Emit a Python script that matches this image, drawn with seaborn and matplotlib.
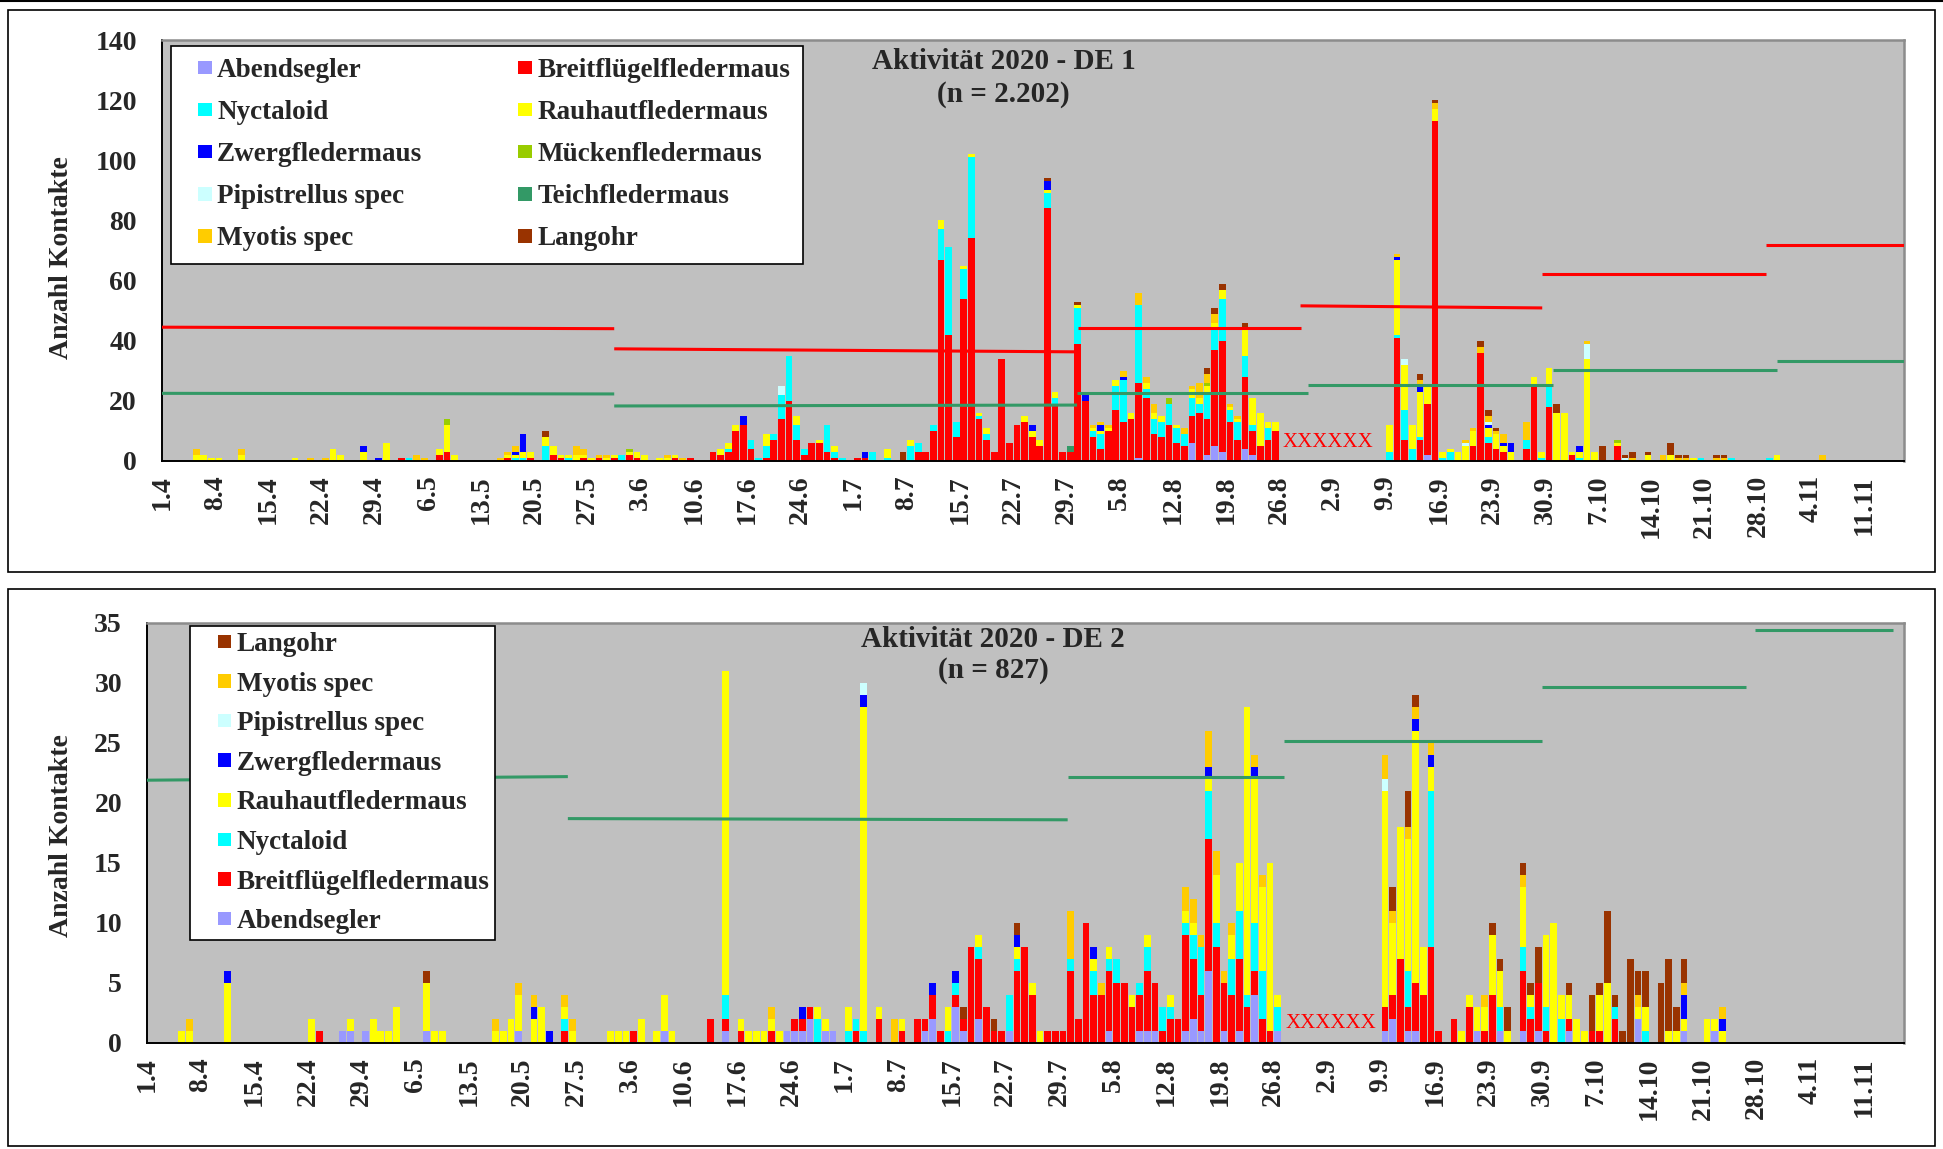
import numpy as np
import pandas as pd
import matplotlib
matplotlib.use("Agg")
import matplotlib.pyplot as plt
from matplotlib.patches import Patch, Rectangle
from matplotlib.lines import Line2D
from matplotlib.legend_handler import HandlerPatch
import seaborn as sns

# ---------------------------------------------------------------- data
# day index 0 = 1.4.2020 ; values = number of contacts per night
TICK_LABELS = ["1.4", "8.4", "15.4", "22.4", "29.4", "6.5", "13.5", "20.5", "27.5",
               "3.6", "10.6", "17.6", "24.6", "1.7", "8.7", "15.7", "22.7", "29.7",
               "5.8", "12.8", "19.8", "26.8", "2.9", "9.9", "16.9", "23.9", "30.9",
               "7.10", "14.10", "21.10", "28.10", "4.11", "11.11"]

SPECIES = ["Abendsegler", "Breitflügelfledermaus", "Nyctaloid", "Rauhautfledermaus",
           "Zwergfledermaus", "Mückenfledermaus", "Pipistrellus spec", "Teichfledermaus",
           "Myotis spec", "Langohr"]
COLORS = {"Abendsegler": "#9999FF", "Breitflügelfledermaus": "#FF0000",
          "Nyctaloid": "#00FFFF", "Rauhautfledermaus": "#FFFF00",
          "Zwergfledermaus": "#0000FF", "Mückenfledermaus": "#99CC00",
          "Pipistrellus spec": "#CCFFFF", "Teichfledermaus": "#339966",
          "Myotis spec": "#FFCC00", "Langohr": "#993300"}

# ---- DE 1
DE1_ABENDSEGLER = {128: 1, 135: 6, 137: 2, 138: 5, 139: 3, 142: 4, 143: 2, 166: 2}
DE1_BREIT = {31: 1, 36: 2, 37: 3, 45: 1, 48: 1, 51: 2, 52: 1, 55: 1, 57: 1, 59: 1, 61: 2,
             62: 1, 67: 1, 69: 1, 72: 3, 73: 2, 74: 3, 75: 10, 76: 12, 77: 4, 79: 1, 80: 7,
             81: 14, 82: 20, 83: 7, 84: 2, 85: 6, 86: 6, 87: 3, 88: 1, 91: 1, 92: 1, 99: 3,
             100: 3, 101: 10, 102: 67, 103: 42, 104: 8, 105: 54, 106: 74, 107: 14, 108: 7,
             109: 3, 110: 34, 111: 6, 112: 12, 113: 13, 114: 8, 115: 5, 116: 84, 117: 19,
             118: 3, 119: 3, 120: 39, 121: 20, 122: 8, 123: 4, 124: 10, 125: 17, 126: 13,
             127: 14, 128: 25, 129: 21, 130: 9, 131: 8, 132: 12, 133: 6, 134: 5, 135: 9,
             136: 16, 137: 12, 138: 32, 139: 37, 140: 13, 141: 7, 142: 24, 143: 8, 144: 5,
             145: 7, 146: 10, 162: 41, 163: 7, 165: 7, 166: 17, 167: 113, 172: 5, 173: 36,
             174: 6, 175: 4, 176: 3, 179: 4, 180: 25, 182: 18, 185: 2, 191: 5}
DE1_NYCT = {32: 1, 46: 1, 47: 1, 50: 5, 53: 1, 60: 2, 74: 1, 77: 3, 78: 1, 79: 4, 80: 2,
            81: 8, 82: 15, 83: 5, 84: 2, 87: 9, 88: 2, 89: 1, 93: 3, 95: 1, 98: 5, 99: 3,
            101: 2, 102: 10, 103: 29, 104: 5, 105: 10, 106: 27, 107: 1, 108: 2, 116: 5,
            117: 2, 120: 12, 122: 2, 123: 5, 125: 8, 126: 14, 128: 26, 129: 3, 130: 5,
            131: 5, 132: 7, 133: 5, 134: 4, 135: 6, 136: 3, 137: 9, 138: 7, 139: 14, 140: 4,
            141: 6, 142: 7, 143: 2, 145: 4, 161: 3, 162: 1, 163: 10, 164: 4, 165: 1, 168: 1,
            169: 3, 174: 2, 179: 3, 181: 1, 182: 7, 186: 1, 202: 1, 206: 1, 211: 1}
DE1_RAUH = {4: 2, 5: 2, 6: 1, 7: 1, 10: 2, 17: 1, 22: 4, 23: 2, 26: 3, 29: 6, 36: 2, 37: 9,
            38: 2, 45: 1, 46: 1, 47: 2, 48: 2, 50: 3, 51: 3, 52: 1, 53: 1, 54: 2, 55: 1,
            56: 1, 58: 1, 59: 1, 61: 1, 62: 2, 63: 2, 65: 1, 66: 1, 67: 1, 73: 2, 74: 2,
            75: 2, 79: 4, 83: 3, 86: 1, 88: 2, 95: 3, 98: 2, 102: 3, 105: 1, 106: 1, 107: 1,
            108: 2, 113: 2, 114: 2, 115: 2, 116: 1, 117: 2, 120: 1, 122: 1, 123: 1, 124: 1,
            125: 2, 127: 2, 129: 2, 130: 2, 131: 2, 133: 1, 135: 3, 136: 2, 137: 2, 138: 2,
            139: 3, 140: 1, 141: 1, 142: 9, 143: 9, 144: 11, 145: 2, 146: 3, 161: 9,
            162: 25, 163: 15, 164: 8, 165: 15, 166: 6, 167: 4, 168: 2, 169: 1, 170: 3,
            171: 5, 172: 5, 174: 3, 175: 5, 176: 2, 177: 3, 180: 3, 181: 2, 182: 6, 183: 16,
            184: 16, 185: 1, 186: 2, 187: 34, 188: 3, 191: 1, 195: 2, 198: 2, 201: 1, 212: 2}
DE1_ZWERG = {26: 2, 28: 1, 46: 1, 47: 6, 76: 3, 92: 2, 114: 2, 116: 3, 121: 2, 123: 2,
             126: 1, 162: 1, 165: 2, 174: 1, 176: 1, 177: 3, 186: 2}
DE1_MUECKEN = {37: 2, 61: 1, 132: 2, 137: 1, 191: 1}
DE1_PIPI = {81: 3, 163: 2, 171: 1, 174: 1, 187: 5, 192: 1}
DE1_TEICH = {119: 2}
DE1_MYOTIS = {4: 2, 10: 2, 19: 1, 21: 1, 33: 2, 34: 1, 44: 1, 45: 1, 46: 2, 54: 3, 55: 2,
              57: 1, 58: 1, 66: 1, 68: 1, 122: 1, 123: 1, 124: 1, 126: 2, 128: 4, 129: 2,
              130: 3, 134: 2, 135: 1, 136: 5, 137: 3, 138: 3, 140: 1, 141: 1, 162: 1,
              165: 2, 167: 2, 171: 1, 172: 1, 173: 2, 174: 2, 175: 1, 176: 3, 179: 6,
              187: 1, 193: 1, 197: 2, 199: 1, 200: 1, 204: 1, 205: 1, 218: 2}
DE1_LANGOHR = {50: 2, 97: 3, 116: 1, 120: 1, 137: 2, 138: 2, 139: 2, 142: 2, 165: 2,
               167: 1, 173: 2, 174: 2, 175: 1, 183: 3, 189: 5, 192: 1, 193: 2, 195: 1,
               198: 4, 199: 1, 200: 1, 204: 1, 205: 1}

# ---- DE 2
DE2_ABENDSEGLER = {25: 1, 26: 1, 28: 1, 36: 1, 48: 1, 67: 1, 75: 1, 83: 1, 84: 1, 85: 1,
                   86: 2, 88: 1, 89: 1, 101: 1, 102: 2, 105: 3, 106: 1, 108: 2, 112: 1,
                   125: 1, 129: 1, 130: 1, 131: 1, 135: 1, 136: 2, 137: 1, 138: 6, 140: 1,
                   142: 1, 144: 4, 147: 1, 161: 1, 162: 2, 164: 1, 165: 1, 173: 1, 176: 1,
                   179: 1, 181: 1, 185: 1, 194: 2, 200: 1, 204: 1}
DE2_BREIT = {22: 1, 54: 1, 63: 1, 73: 2, 75: 1, 77: 1, 81: 1, 84: 1, 85: 1, 86: 1, 92: 1,
             95: 2, 98: 1, 100: 2, 101: 1, 102: 2, 103: 1, 105: 1, 106: 1, 107: 8, 108: 5,
             109: 3, 110: 1, 111: 1, 113: 6, 114: 8, 115: 4, 117: 1, 118: 1, 119: 1, 120: 6,
             121: 2, 122: 10, 123: 4, 124: 4, 125: 5, 126: 5, 127: 5, 128: 3, 129: 3,
             130: 5, 131: 4, 132: 1, 133: 2, 134: 2, 135: 8, 136: 5, 137: 3, 138: 11,
             139: 8, 140: 4, 141: 4, 142: 6, 143: 3, 144: 2, 145: 2, 146: 1, 161: 2, 162: 2,
             163: 7, 164: 2, 165: 4, 166: 4, 167: 8, 168: 1, 170: 2, 172: 3, 174: 1, 175: 4,
             179: 5, 180: 2, 181: 4, 182: 1, 185: 1, 188: 1, 189: 1, 191: 2}
DE2_NYCT = {54: 1, 75: 2, 87: 2, 91: 1, 92: 1, 93: 1, 104: 1, 105: 1, 108: 1, 112: 3,
            113: 1, 120: 1, 123: 2, 125: 1, 126: 2, 129: 1, 130: 2, 132: 2, 133: 1, 135: 1,
            136: 2, 137: 4, 138: 4, 139: 2, 141: 3, 142: 4, 143: 1, 144: 4, 145: 4, 147: 2,
            164: 3, 167: 13, 176: 2, 179: 2, 180: 1, 182: 2, 184: 2, 191: 1, 195: 1}
DE2_RAUH = {4: 1, 5: 1, 10: 5, 21: 2, 26: 1, 29: 2, 30: 1, 31: 1, 32: 3, 36: 4, 37: 1,
            38: 1, 45: 1, 46: 1, 47: 2, 48: 3, 50: 2, 51: 3, 54: 1, 55: 1, 60: 1, 61: 1,
            62: 1, 64: 2, 66: 1, 67: 3, 68: 1, 75: 27, 77: 1, 78: 1, 79: 1, 80: 1, 81: 1,
            82: 1, 87: 1, 88: 1, 91: 2, 93: 27, 95: 1, 98: 1, 104: 2, 108: 1, 113: 1,
            115: 1, 116: 1, 123: 1, 125: 1, 128: 1, 130: 1, 133: 1, 135: 1, 136: 1, 138: 1,
            139: 4, 141: 2, 142: 4, 143: 24, 144: 12, 145: 7, 146: 14, 147: 1, 161: 18,
            162: 6, 163: 11, 164: 11, 165: 21, 166: 4, 167: 2, 171: 1, 172: 1, 173: 2,
            174: 2, 175: 5, 176: 3, 177: 1, 179: 5, 180: 1, 182: 6, 183: 10, 184: 2, 185: 2,
            186: 2, 187: 1, 189: 3, 190: 5, 194: 1, 195: 2, 198: 1, 199: 1, 200: 1, 203: 2,
            204: 1, 205: 1}
DE2_ZWERG = {10: 1, 50: 1, 52: 1, 85: 1, 93: 1, 102: 1, 105: 1, 113: 1, 123: 1, 138: 1,
             144: 1, 165: 1, 167: 1, 200: 2, 205: 1}
DE2_PIPI = {93: 1, 161: 1}
DE2_MYOTIS = {5: 1, 45: 1, 48: 1, 50: 1, 54: 1, 55: 1, 81: 1, 97: 2, 120: 4, 124: 1,
              135: 2, 136: 2, 137: 1, 138: 3, 139: 2, 140: 1, 141: 1, 144: 1, 145: 1,
              161: 2, 162: 1, 164: 1, 165: 1, 167: 1, 174: 1, 179: 1, 194: 1, 200: 1, 205: 1}
DE2_LANGOHR = {36: 1, 106: 1, 110: 1, 113: 1, 162: 2, 164: 3, 165: 1, 175: 1, 176: 1,
               177: 2, 179: 1, 180: 1, 181: 3, 185: 1, 188: 3, 189: 1, 190: 6, 191: 1,
               192: 1, 193: 7, 194: 2, 195: 3, 197: 5, 198: 6, 199: 2, 200: 2}

# reference lines: (day_start, day_end, value_start, value_end)
DE1_RED = [(0, 59.5, 44.5, 44.0), (59.5, 120.2, 37.3, 36.3), (120.5, 149.8, 44.2, 44.2),
           (149.8, 181.6, 51.6, 50.9), (181.6, 211.0, 62.1, 62.1), (211.0, 229.2, 71.8, 71.8)]
DE1_GREEN = [(0, 59.5, 22.5, 22.3), (59.5, 120.4, 18.3, 18.6), (120.4, 150.8, 22.6, 22.6),
             (150.8, 183.0, 25.2, 25.2), (183.0, 212.5, 30.1, 30.1), (212.5, 229.2, 33.4, 33.4)]
DE2_GREEN = [(0, 54.9, 21.9, 22.2), (54.9, 120.1, 18.7, 18.6), (120.1, 148.3, 22.2, 22.2),
             (148.3, 182.0, 25.2, 25.2), (182.0, 208.6, 29.7, 29.7), (209.7, 227.7, 34.4, 34.4)]
DE1_GAP = (153.4, 6.2)
DE2_GAP = (154.5, 1.6)

DE1 = {"Abendsegler": DE1_ABENDSEGLER, "Breitflügelfledermaus": DE1_BREIT,
       "Nyctaloid": DE1_NYCT, "Rauhautfledermaus": DE1_RAUH, "Zwergfledermaus": DE1_ZWERG,
       "Mückenfledermaus": DE1_MUECKEN, "Pipistrellus spec": DE1_PIPI,
       "Teichfledermaus": DE1_TEICH, "Myotis spec": DE1_MYOTIS, "Langohr": DE1_LANGOHR}
DE2 = {"Abendsegler": DE2_ABENDSEGLER, "Breitflügelfledermaus": DE2_BREIT,
       "Nyctaloid": DE2_NYCT, "Rauhautfledermaus": DE2_RAUH, "Zwergfledermaus": DE2_ZWERG,
       "Pipistrellus spec": DE2_PIPI, "Myotis spec": DE2_MYOTIS, "Langohr": DE2_LANGOHR}

# ---------------------------------------------------------------- style
sns.set_style("white")
plt.rcParams['font.family'] = ['Liberation Serif', 'DejaVu Serif']
plt.rcParams['font.weight'] = 'bold'
FS = 20
W, H = 1943, 1149
XMAX = 229.2


class SquareHandler(HandlerPatch):
    """Small square legend key, drawn at the right end of the handle box."""
    def create_artists(self, legend, orig_handle, xdescent, ydescent, width, height,
                       fontsize, trans):
        s = 0.5 * fontsize
        x = width - s - xdescent
        y = (height - s) / 2.0 - ydescent
        p = Rectangle((x, y), s, s, facecolor=orig_handle.get_facecolor(),
                      edgecolor="none", transform=trans)
        return [p]


def long_frame(series):
    rows = [(d + 0.5, sp, v) for sp, vals in series.items() for d, v in vals.items()]
    return pd.DataFrame(rows, columns=["day", "species", "count"])


def panel(ax, series, ymax, ystep, title1, title2, tpos, lines, gap):
    df = long_frame(series)
    order = [s for s in SPECIES if s in series]          # bottom -> top
    sns.histplot(data=df, x="day", weights="count", hue="species",
                 hue_order=order[::-1], palette=COLORS, multiple="stack",
                 binwidth=1, binrange=(0, 230), shrink=0.88, linewidth=0,
                 edgecolor="none", alpha=1, legend=False, ax=ax)
    ax.set_facecolor("#C0C0C0")
    ax.set_xlim(0, XMAX)
    ax.set_ylim(0, ymax)
    ax.set_xlabel("")
    ax.set_ylabel("")
    ax.set_xticks(np.arange(len(TICK_LABELS)) * 7)
    ax.set_xticklabels(TICK_LABELS, rotation=90, fontsize=FS, fontweight="bold")
    ax.set_yticks(np.arange(0, ymax + 0.1, ystep))
    ax.set_yticklabels([f"{int(v)}" for v in np.arange(0, ymax + 0.1, ystep)],
                       fontsize=FS, fontweight="bold")
    ax.tick_params(axis="x", direction="out", length=4.2, width=1.3, pad=6, color="black")
    ax.tick_params(axis="y", direction="out", length=6.5, width=1.3, pad=11.5, color="black")
    for s in ("left", "bottom"):
        ax.spines[s].set_color("black")
        ax.spines[s].set_linewidth(1.4)
    for s in ("top", "right"):
        ax.spines[s].set_color("#8C8C8C")
        ax.spines[s].set_linewidth(1.8)
    for color, segs in lines:
        for x0, x1, y0, y1 in segs:
            ax.plot([x0, x1], [y0, y1], color=color, lw=2.2, solid_capstyle="butt", zorder=4)
    ax.text(tpos[0], tpos[1], title1, transform=ax.transAxes, ha="center",
            va="baseline", fontsize=21, fontweight="bold", zorder=6)
    ax.text(tpos[0], tpos[2], title2, transform=ax.transAxes, ha="center",
            va="baseline", fontsize=21, fontweight="bold", zorder=6)
    ax.text(gap[0], gap[1], "XXXXXX", color="#FF0000", ha="center", va="center",
            fontsize=15, fontweight="normal", zorder=5)


fig = plt.figure(figsize=(W / 100, H / 100), dpi=100)

ax1 = fig.add_axes([162 / W, 1 - 461 / H, 1742 / W, 421 / H])
panel(ax1, DE1, 140, 20, "Aktivität 2020 - DE 1", "(n = 2.202)", (0.483, 0.930, 0.853),
      [("#FF0000", DE1_RED), ("#339966", DE1_GREEN)], DE1_GAP)

ax2 = fig.add_axes([147 / W, 1 - 1043 / H, 1757 / W, 420 / H])
panel(ax2, DE2, 35, 5, "Aktivität 2020 - DE 2", "(n = 827)", (0.4815, 0.944, 0.869),
      [("#339966", DE2_GREEN)], DE2_GAP)

# legends
top_order = ["Abendsegler", "Nyctaloid", "Zwergfledermaus", "Pipistrellus spec",
             "Myotis spec", "Breitflügelfledermaus", "Rauhautfledermaus",
             "Mückenfledermaus", "Teichfledermaus", "Langohr"]
h1 = [Patch(facecolor=COLORS[s], edgecolor="none", label=s) for s in top_order]
leg1 = ax1.legend(handles=h1, ncol=2, loc="upper left", bbox_to_anchor=(0.0052, 0.9857),
                  borderaxespad=0, frameon=True, fancybox=False, framealpha=1,
                  edgecolor="black", facecolor="white", prop={"size": 19.5, "weight": "bold"},
                  handlelength=1.05, handleheight=0.5, handletextpad=0.2,
                  labelspacing=0.63, columnspacing=3.0, borderpad=0.45,
                  handler_map={Patch: SquareHandler()})
leg1.get_frame().set_linewidth(1.2)
leg1.set_zorder(7)

bot_order = ["Langohr", "Myotis spec", "Pipistrellus spec", "Zwergfledermaus",
             "Rauhautfledermaus", "Nyctaloid", "Breitflügelfledermaus", "Abendsegler"]
h2 = [Patch(facecolor=COLORS[s], edgecolor="none", label=s) for s in bot_order]
leg2 = ax2.legend(handles=h2, ncol=1, loc="upper left", bbox_to_anchor=(0.0245, 0.993),
                  borderaxespad=0, frameon=True, fancybox=False, framealpha=1,
                  edgecolor="black", facecolor="white", prop={"size": 19.5, "weight": "bold"},
                  handlelength=1.3, handleheight=0.5, handletextpad=0.2,
                  labelspacing=0.54, borderpad=0.22,
                  handler_map={Patch: SquareHandler()})
leg2.get_frame().set_linewidth(1.2)
leg2.set_zorder(7)

# y axis titles
fig.text(61 / W, 1 - 258 / H, "Anzahl Kontakte", rotation=90, ha="center", va="center",
         fontsize=FS, fontweight="bold")
fig.text(61 / W, 1 - 836 / H, "Anzahl Kontakte", rotation=90, ha="center", va="center",
         fontsize=FS, fontweight="bold")

# chart area frames
for (y_top, y_bot) in [(10, 572), (588.5, 1146)]:
    fig.add_artist(Rectangle((8 / W, 1 - y_bot / H), 1927 / W, (y_bot - y_top) / H,
                             transform=fig.transFigure, fill=False, ec="black", lw=1.2))
fig.add_artist(Line2D([0, 1], [1 - 0.8 / H, 1 - 0.8 / H], transform=fig.transFigure,
                      color="black", lw=1.5))

fig.savefig("out.png", dpi=100, facecolor="white")
